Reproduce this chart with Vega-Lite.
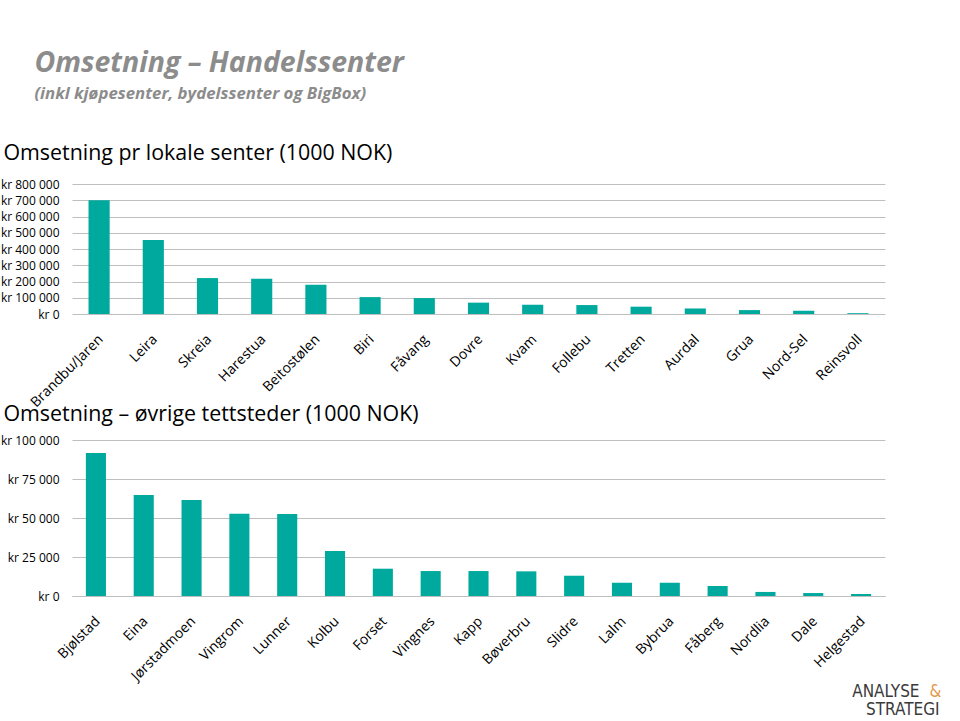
{
  "$schema": "https://vega.github.io/schema/vega-lite/v6.json",
  "background": "white",
  "padding": {"left": 0, "top": 49, "right": 0, "bottom": 0},
  "bounds": "flush",
  "spacing": 126,
  "title": {
    "text": "Omsetning – Handelssenter",
    "subtitle": "(inkl kjøpesenter, bydelssenter og BigBox)",
    "anchor": "start",
    "frame": "bounds",
    "dx": 34,
    "offset": 40,
    "font": "Open Sans",
    "fontSize": 28.5,
    "fontStyle": "italic",
    "fontWeight": "bold",
    "color": "#8c8c8c",
    "subtitleFont": "Open Sans",
    "subtitleFontSize": 16.8,
    "subtitleFontStyle": "italic",
    "subtitleFontWeight": "bold",
    "subtitleColor": "#8c8c8c",
    "subtitlePadding": 8
  },
  "config": {
    "locale": {"number": {"decimal": ",", "thousands": " ", "grouping": [3], "currency": ["kr ", ""]}},
    "view": {"stroke": null},
    "axis": {"labelFont": "Open Sans", "labelColor": "#000000", "titleFont": "Open Sans"},
    "title": {"font": "Open Sans", "fontWeight": "normal", "color": "#000000"}
  },
  "vconcat": [
    {
      "width": 813,
      "height": 130,
      "title": {"text": "Omsetning pr lokale senter (1000 NOK)", "anchor": "start", "frame": "bounds", "dx": 3, "fontSize": 21.4, "offset": 14},
      "data": {"values": [
        {"sted": "Brandbu/Jaren", "omsetning": 700000},
        {"sted": "Leira", "omsetning": 455000},
        {"sted": "Skreia", "omsetning": 221000},
        {"sted": "Harestua", "omsetning": 217000},
        {"sted": "Beitostølen", "omsetning": 180000},
        {"sted": "Biri", "omsetning": 104000},
        {"sted": "Fåvang", "omsetning": 98000},
        {"sted": "Dovre", "omsetning": 70000},
        {"sted": "Kvam", "omsetning": 57000},
        {"sted": "Follebu", "omsetning": 55000},
        {"sted": "Tretten", "omsetning": 45000},
        {"sted": "Aurdal", "omsetning": 34000},
        {"sted": "Grua", "omsetning": 24000},
        {"sted": "Nord-Sel", "omsetning": 20000},
        {"sted": "Reinsvoll", "omsetning": 5000}
      ]},
      "mark": {"type": "bar", "color": "#00a99d"},
      "encoding": {
        "x": {"field": "sted", "type": "nominal", "sort": null,
              "scale": {"paddingInner": 0.61},
              "axis": {"labelAngle": -45, "labelFontSize": 14, "ticks": false, "domain": false, "labelPadding": 18, "labelOffset": -3,
                       "title": "STRATEGI", "titleFont": "DejaVu Sans Condensed", "titleFontSize": 17,
                       "titleFontWeight": "normal", "titleColor": "#3a3a3a", "titleAlign": "right", "titleAnchor": "end",
                       "titleX": 867, "titleY": 400, "titleBaseline": "alphabetic"}},
        "y": {"field": "omsetning", "type": "quantitative", "title": null,
              "scale": {"domain": [0, 800000], "nice": false},
              "axis": {"values": [0, 100000, 200000, 300000, 400000, 500000, 600000, 700000, 800000],
                       "labelExpr": "'kr ' + format(datum.value, ',d')",
                       "labelFontSize": 12, "ticks": false, "domain": false, "labelPadding": 13,
                       "gridColor": "#bfbfbf", "gridWidth": 1, "gridOpacity": 1}}
      }
    },
    {
      "width": 813,
      "height": 156,
      "title": {"text": "Omsetning – øvrige tettsteder (1000 NOK)", "anchor": "start", "frame": "bounds", "dx": 3, "fontSize": 21.4, "offset": 9},
      "data": {"values": [
        {"sted": "Bjølstad", "omsetning": 91700},
        {"sted": "Eina", "omsetning": 64700},
        {"sted": "Jørstadmoen", "omsetning": 61500},
        {"sted": "Vingrom", "omsetning": 52800},
        {"sted": "Lunner", "omsetning": 52600},
        {"sted": "Kolbu", "omsetning": 28800},
        {"sted": "Forset", "omsetning": 17500},
        {"sted": "Vingnes", "omsetning": 16000},
        {"sted": "Kapp", "omsetning": 16000},
        {"sted": "Bøverbru", "omsetning": 15800},
        {"sted": "Slidre", "omsetning": 13000},
        {"sted": "Lalm", "omsetning": 8500},
        {"sted": "Bybrua", "omsetning": 8500},
        {"sted": "Fåberg", "omsetning": 6400},
        {"sted": "Nordlia", "omsetning": 2600},
        {"sted": "Dale", "omsetning": 1900},
        {"sted": "Helgestad", "omsetning": 1300}
      ]},
      "mark": {"type": "bar", "color": "#00a99d"},
      "encoding": {
        "x": {"field": "sted", "type": "nominal", "sort": null,
              "scale": {"paddingInner": 0.58},
              "axis": {"labelAngle": -45, "labelFontSize": 14, "ticks": false, "labelPadding": 18, "labelOffset": -3,
                       "domainColor": "#bfbfbf",
                       "title": "ANALYSE", "titleFont": "DejaVu Sans Condensed", "titleFontSize": 17,
                       "titleFontWeight": "normal", "titleColor": "#3a3a3a", "titleAlign": "right", "titleAnchor": "end",
                       "titleX": 847, "titleY": 100, "titleBaseline": "alphabetic"}},
        "y": {"field": "omsetning", "type": "quantitative",
              "scale": {"domain": [0, 100000], "nice": false},
              "axis": {"values": [0, 25000, 50000, 75000, 100000],
                       "labelExpr": "'kr ' + format(datum.value, ',d')",
                       "labelFontSize": 12, "ticks": false, "domain": false, "labelPadding": 13,
                       "gridColor": "#bfbfbf", "gridWidth": 1, "gridOpacity": 1,
                       "title": "&", "titleAngle": 0, "titleFont": "DejaVu Sans Condensed", "titleFontSize": 17,
                       "titleFontWeight": "normal", "titleColor": "#e39b4f", "titleAlign": "right",
                       "titleX": 869, "titleY": 256, "titleBaseline": "alphabetic"}}
      }
    }
  ]
}
